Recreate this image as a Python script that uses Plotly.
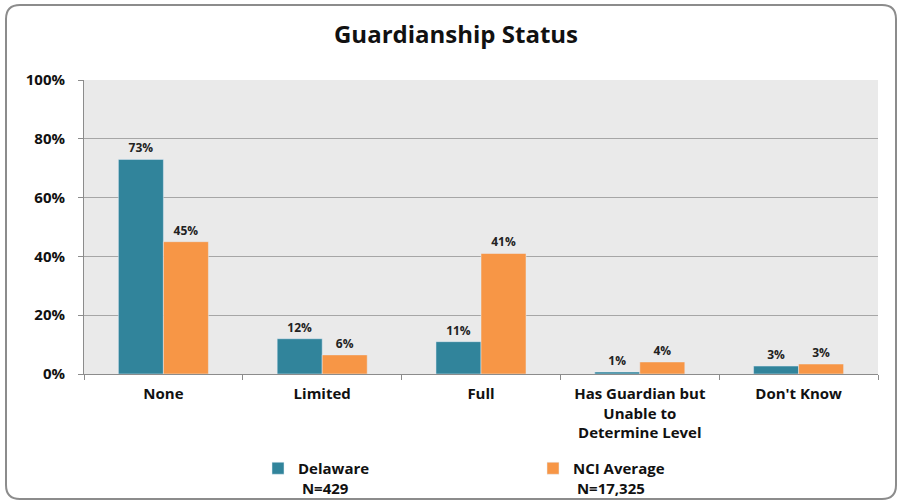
import plotly.graph_objects as go

categories = ["None", "Limited", "Full", "Has Guardian but<br>Unable to<br>Determine Level", "Don't Know"]
delaware = [73, 12, 11, 0.7, 2.7]
nci_avg = [45, 6.5, 41, 4.1, 3.4]
delaware_labels = ["73%", "12%", "11%", "1%", "3%"]
nci_labels = ["45%", "6%", "41%", "4%", "3%"]
series_names = ["Delaware<br> N=429", "NCI Average<br> N=17,325"]
ytick_vals = [0, 20, 40, 60, 80, 100]
ytick_text = ["0%", "20%", "40%", "60%", "80%", "100%"]

W, H = 902, 504
ML, MR, MT, MB = 84, 24, 80, 130
FONT = "Open Sans"

fig = go.Figure()
fig.add_trace(go.Bar(x=categories, y=delaware, name=series_names[0], marker_color="#31849B",
                     text=delaware_labels, textposition="outside", cliponaxis=False,
                     textfont=dict(size=12, color="#222", family=FONT, weight="bold")))
fig.add_trace(go.Bar(x=categories, y=nci_avg, name=series_names[1], marker_color="#F79646",
                     text=nci_labels, textposition="outside", cliponaxis=False,
                     textfont=dict(size=12, color="#222", family=FONT, weight="bold")))

# rounded outer frame in paper coordinates
pw, ph = W - ML - MR, H - MT - MB
def px(x): return (x - ML) / pw
def py(y): return (H - MB - y) / ph
x0, x1, y0, y1, r = 6, 896, 5, 499, 14
rx, ry = r / pw, r / ph
path = (f"M {px(x0)+rx},{py(y0)} L {px(x1)-rx},{py(y0)} Q {px(x1)},{py(y0)} {px(x1)},{py(y0)-ry} "
        f"L {px(x1)},{py(y1)+ry} Q {px(x1)},{py(y1)} {px(x1)-rx},{py(y1)} "
        f"L {px(x0)+rx},{py(y1)} Q {px(x0)},{py(y1)} {px(x0)},{py(y1)+ry} "
        f"L {px(x0)},{py(y0)-ry} Q {px(x0)},{py(y0)} {px(x0)+rx},{py(y0)} Z")

fig.update_layout(
    width=W, height=H,
    margin=dict(l=ML, r=MR, t=MT, b=MB, autoexpand=False),
    paper_bgcolor="white", plot_bgcolor="#EAEAEA",
    font=dict(family=FONT, color="#111"),
    title=dict(text="<b>Guardianship Status</b>", x=px(456), xanchor="center", xref="paper",
               y=(H - 35) / H, yanchor="middle",
               font=dict(size=24, family=FONT, color="#111")),
    barmode="group", bargap=0.433, bargroupgap=0,
    showlegend=True,
    legend=dict(orientation="h", x=px(258), xanchor="left", y=py(452), yanchor="top",
                entrywidth=230, entrywidthmode="pixels", valign="top",
                font=dict(size=15, family=FONT, color="#111", weight="bold"),
                bgcolor="rgba(0,0,0,0)"),
    shapes=[dict(type="path", xref="paper", yref="paper", path=path,
                 line=dict(color="#8C8C8C", width=2), fillcolor="rgba(0,0,0,0)", layer="below")],
)
fig.update_yaxes(range=[0, 100], tickvals=ytick_vals, ticktext=ytick_text,
                 showgrid=True, gridcolor="#A6A6A6", gridwidth=1,
                 showline=True, linecolor="#8C8C8C", linewidth=1,
                 ticks="outside", ticklen=5, tickcolor="#8C8C8C", ticklabelstandoff=10,
                 tickfont=dict(size=15, family=FONT, color="#111", weight="bold"),
                 zeroline=False, fixedrange=True)
fig.update_xaxes(showline=True, linecolor="#8C8C8C", linewidth=1,
                 ticks="outside", tickson="boundaries", ticklen=5, tickcolor="#8C8C8C",
                 ticklabelstandoff=6,
                 tickfont=dict(size=15, family=FONT, color="#111", weight="bold"),
                 fixedrange=True)

fig.write_html("out.html", config={"displayModeBar": False},
               post_script="document.body.style.margin='0';")
